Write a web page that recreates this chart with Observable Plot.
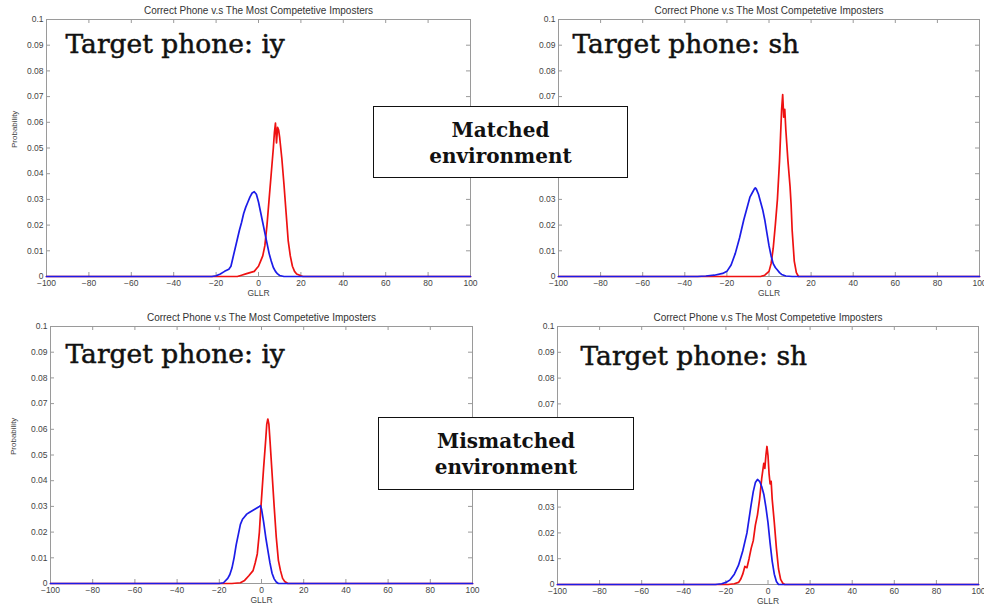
<!DOCTYPE html>
<html>
<head>
<meta charset="utf-8">
<script src="https://cdn.jsdelivr.net/npm/d3@7"></script>
<script src="https://cdn.jsdelivr.net/npm/@observablehq/plot@0.6"></script>
<style>
  html, body { margin: 0; padding: 0; background: #fff; }
  #figure { position: relative; width: 984px; height: 605px; overflow: hidden; background: #fff; }
  .panel { position: absolute; }
  .panel svg { display: block; max-width: none; background: transparent; }
  .env {
    position: absolute; box-sizing: border-box; border: 1.5px solid #111; background: #fff;
    font-family: "DejaVu Serif", serif; font-weight: bold; font-size: 20px; line-height: 26px;
    color: #111; text-align: center; padding-top: 9.5px;
  }
</style>
</head>
<body>
<div id="figure"></div>
<script>
// GLLR histograms: correct phone (red) vs. most competitive imposters (blue), [GLLR, probability]
const iyMatchedImposter = [[-100,0],[-22,0],[-20,0.0003],[-18,0.001],[-16,0.002],[-14,0.0028],[-13,0.004],[-12,0.0075],[-11,0.011],[-10,0.0145],[-9,0.018],[-8,0.021],[-7,0.0245],[-6,0.027],[-5,0.029],[-4,0.031],[-3,0.0325],[-2,0.033],[-1,0.032],[0,0.029],[1,0.025],[2,0.021],[3,0.017],[4,0.013],[5,0.009],[6,0.006],[7,0.0035],[8,0.002],[9,0.001],[10,0.0004],[12,0],[100,0]];
const iyMatchedCorrect = [[-100,0],[-10,0],[-8,0.0005],[-6,0.001],[-4,0.0015],[-2,0.002],[-1,0.003],[0,0.004],[1,0.006],[2,0.008],[3,0.012],[4,0.02],[5,0.03],[6,0.04],[7,0.05],[7.5,0.056],[8,0.0597],[8.5,0.052],[9,0.058],[9.5,0.057],[10,0.054],[11,0.046],[12,0.036],[13,0.025],[14,0.014],[15,0.008],[16,0.004],[17,0.002],[18,0.001],[20,0.0003],[21,0],[100,0]];
const shMatchedImposter = [[-100,0],[-34,0],[-30,0.0002],[-26,0.0005],[-22,0.0012],[-20,0.002],[-18,0.0045],[-16,0.009],[-14,0.015],[-12,0.022],[-10,0.028],[-9,0.031],[-8,0.0325],[-7,0.034],[-6.5,0.0345],[-6,0.034],[-5,0.032],[-4,0.029],[-3,0.026],[-2,0.022],[-1,0.017],[0,0.012],[1,0.008],[2,0.005],[3,0.0035],[4,0.0025],[5,0.0015],[6,0.0008],[8,0.0002],[11,0],[100,0]];
const shMatchedCorrect = [[-100,0],[-4,0],[-2,0.0005],[0,0.002],[1,0.005],[2,0.011],[3,0.02],[4,0.03],[5,0.045],[5.5,0.055],[6,0.065],[6.5,0.0708],[7,0.062],[7.5,0.065],[8,0.057],[9,0.045],[10,0.035],[10.5,0.028],[11,0.018],[12,0.006],[13,0.0015],[14,0],[100,0]];
const iyMismatchedImposter = [[-100,0],[-20,0],[-18,0.0003],[-16,0.002],[-15,0.0035],[-14,0.006],[-13,0.01],[-12,0.015],[-11,0.019],[-10,0.023],[-9,0.025],[-8,0.026],[-7,0.027],[-6,0.0275],[-5,0.028],[-4,0.0285],[-3,0.029],[-2,0.0295],[-1,0.03],[-0.5,0.0303],[0,0.029],[1,0.024],[2,0.018],[3,0.013],[4,0.008],[5,0.004],[6,0.0018],[7,0.0006],[8,0],[100,0]];
const iyMismatchedCorrect = [[-100,0],[-14,0],[-10,0.0003],[-8,0.0012],[-6,0.003],[-4,0.005],[-3,0.008],[-2,0.0115],[-1,0.02],[-0.5,0.027],[0,0.033],[1,0.045],[2,0.056],[2.5,0.062],[3,0.064],[3.5,0.062],[4,0.056],[5,0.043],[6,0.03],[7,0.018],[8,0.009],[9,0.005],[10,0.002],[11,0.0008],[12.5,0],[100,0]];
const shMismatchedImposter = [[-100,0],[-25,0],[-22,0.0003],[-20,0.0008],[-18,0.0018],[-16,0.004],[-14,0.0075],[-12,0.013],[-10,0.02],[-8,0.031],[-7,0.036],[-6,0.0395],[-5,0.0407],[-4,0.04],[-3,0.038],[-2,0.035],[-1,0.03],[0,0.024],[1,0.016],[2,0.009],[3,0.004],[4,0.0012],[5,0],[100,0]];
const shMismatchedCorrect = [[-100,0],[-19,0],[-16,0.0003],[-14,0.0008],[-13,0.002],[-12,0.004],[-11,0.007],[-10,0.0065],[-9,0.01],[-8,0.014],[-7,0.017],[-6,0.023],[-5,0.027],[-4,0.033],[-3,0.041],[-2.5,0.044],[-2,0.047],[-1.5,0.045],[-1,0.05],[-0.5,0.0535],[0,0.05],[0.5,0.043],[1,0.039],[1.5,0.04],[2,0.033],[3,0.024],[4,0.014],[5,0.006],[6,0.002],[7,0.0005],[8,0],[100,0]];

// Axis ticks and texts
const xTicks = [-100, -80, -60, -40, -20, 0, 20, 40, 60, 80, 100];
const yTicks = [0, 0.01, 0.02, 0.03, 0.04, 0.05, 0.06, 0.07, 0.08, 0.09, 0.1];
// right-hand panels: these y labels sit under the environment boxes
const yTicksUnderBox = [0.04, 0.05, 0.06];
const panelTitle = "Correct Phone v.s The Most Competetive Imposters";
const xLabel = "GLLR";
const yLabel = "Probability";
const targetLabels = ["Target phone: iy", "Target phone: sh", "Target phone: iy", "Target phone: sh"];
const envLabels = [["Matched", "environment"], ["Mismatched", "environment"]];

const series = [
  [iyMatchedCorrect, iyMatchedImposter],
  [shMatchedCorrect, shMatchedImposter],
  [iyMismatchedCorrect, iyMismatchedImposter],
  [shMismatchedCorrect, shMismatchedImposter]
];

// Panel layout: svg placement and margins [top, right, bottom, left]
const layout = [
  {left: 0,   top: 0,   width: 492, height: 300, m: [19, 22, 24, 46], tdx: 19, tdy: 33, pdx: -32, right: false},
  {left: 492, top: 0,   width: 492, height: 300, m: [19, 5, 24, 66],  tdx: 14, tdy: 33, pdx: -31, right: true},
  {left: 0,   top: 300, width: 492, height: 305, m: [26, 20, 22, 50], tdx: 15, tdy: 36, pdx: -37, right: false},
  {left: 492, top: 300, width: 492, height: 305, m: [26, 6, 21, 65],  tdx: 23, tdy: 38, pdx: -31, right: true}
];

const fmtY = d => String(+d.toFixed(2));
const figure = document.getElementById("figure");

layout.forEach((L, i) => {
  const [mt, mr, mb, ml] = L.m;
  const plotW = L.width - ml - mr;
  const plotH = L.height - mt - mb;
  const [correct, imposter] = series[i];
  const axisGray = "#9a9a9a";
  const yLabelTicks = L.right ? yTicks.filter(t => !yTicksUnderBox.includes(t)) : yTicks;

  const svg = Plot.plot({
    width: L.width,
    height: L.height,
    marginTop: mt, marginRight: mr, marginBottom: mb, marginLeft: ml,
    style: {fontFamily: "'Liberation Sans', Arial, sans-serif", fontSize: "8.5px", color: "#444", background: "transparent"},
    x: {domain: [-100, 100]},
    y: {domain: [0, 0.1]},
    marks: [
      Plot.frame({stroke: axisGray}),
      // inward tick marks on all four sides
      Plot.tickY(yTicks, {y: d => d, stroke: axisGray, insetRight: plotW - 4}),
      Plot.tickY(yTicks, {y: d => d, stroke: axisGray, insetLeft: plotW - 4}),
      Plot.tickX(xTicks, {x: d => d, stroke: axisGray, insetTop: plotH - 4}),
      Plot.tickX(xTicks, {x: d => d, stroke: axisGray, insetBottom: plotH - 4}),
      Plot.axisX(xTicks, {tickSize: 0, tickPadding: 3, label: null}),
      Plot.axisY(yLabelTicks, {tickSize: 0, tickPadding: 3, label: null, tickFormat: fmtY}),
      Plot.text([panelTitle], {frameAnchor: "top", dy: -6, lineAnchor: "bottom", fontSize: 10, fill: "#333"}),
      Plot.text([xLabel], {frameAnchor: "bottom", dy: 19, lineAnchor: "bottom", fontSize: 8.5, fill: "#444"}),
      L.right ? null : Plot.text([yLabel], {frameAnchor: "left", dx: L.pdx, rotate: -90, lineAnchor: "middle", fontSize: 8, fill: "#444"}),
      Plot.line(correct, {x: d => d[0], y: d => d[1], stroke: "#ee1111", strokeWidth: 1.7}),
      Plot.line(imposter, {x: d => d[0], y: d => d[1], stroke: "#1c1ce8", strokeWidth: 1.7}),
      Plot.text([targetLabels[i]], {
        frameAnchor: "top-left", dx: L.tdx, dy: L.tdy, textAnchor: "start", lineAnchor: "bottom",
        fontFamily: "'DejaVu Serif', serif", fontSize: 26.5, fill: "#111", stroke: "#111", strokeWidth: 0.5
      })
    ]
  });

  const div = document.createElement("div");
  div.className = "panel";
  div.style.left = L.left + "px";
  div.style.top = L.top + "px";
  div.appendChild(svg);
  figure.appendChild(div);
});

// Environment annotation boxes
const boxes = [
  {left: 373, top: 106, width: 255, height: 72},
  {left: 378, top: 417, width: 256, height: 73}
];
boxes.forEach((b, i) => {
  const d = document.createElement("div");
  d.className = "env";
  d.style.left = b.left + "px";
  d.style.top = b.top + "px";
  d.style.width = b.width + "px";
  d.style.height = b.height + "px";
  d.innerHTML = envLabels[i].join("<br>");
  figure.appendChild(d);
});
</script>
</body>
</html>
